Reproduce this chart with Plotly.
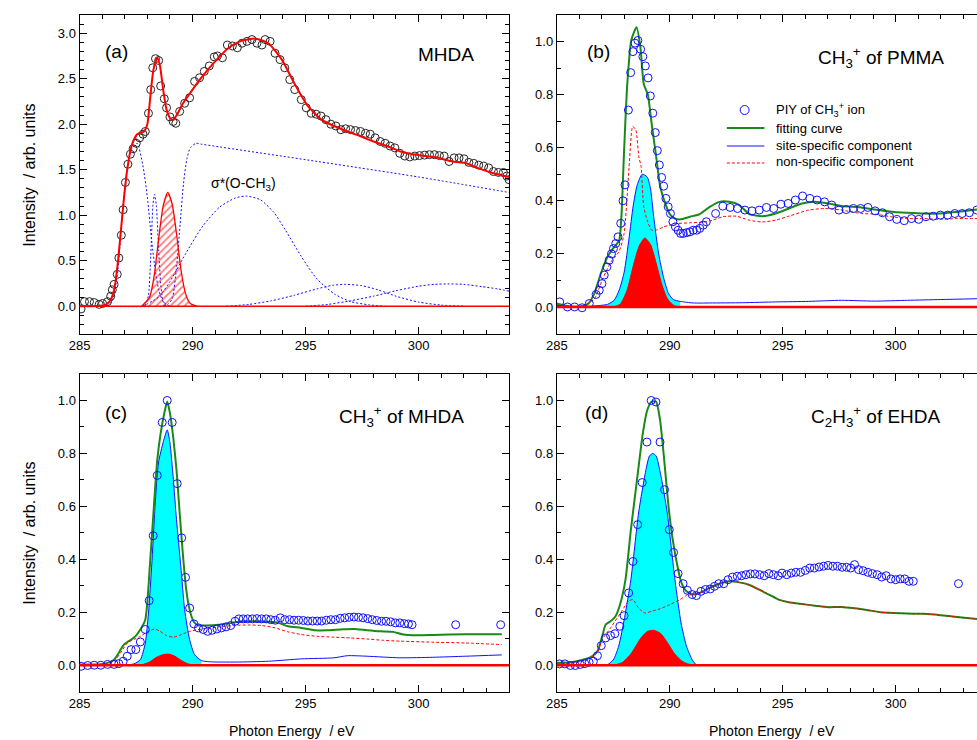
import plotly.graph_objects as go

FONT = "Liberation Sans, Arial, sans-serif"
W, H = 977, 740

# ---------------- (a) MHDA: electron yield spectrum, fit and components ----------------
A_TEY = [(285.07, -0.03), (285.22, 0.05), (285.44, 0.05), (285.65, 0.04), (285.87, 0.02), (286.02, 0.03),
         (286.24, 0.05), (286.38, 0.11), (286.45, 0.18), (286.53, 0.24), (286.67, 0.35), (286.74, 0.53),
         (286.85, 0.78), (286.93, 1.06), (287.03, 1.36), (287.14, 1.56), (287.25, 1.67), (287.37, 1.73),
         (287.51, 1.79), (287.66, 1.85), (287.81, 1.89), (287.91, 1.92), (288.05, 2.12), (288.15, 2.38),
         (288.24, 2.62), (288.36, 2.72), (288.50, 2.70), (288.59, 2.42), (288.75, 2.28), (288.85, 2.18),
         (289.00, 2.08), (289.14, 2.03), (289.26, 2.01), (289.43, 2.14), (289.65, 2.23), (289.87, 2.29),
         (290.09, 2.47), (290.31, 2.51), (290.52, 2.58), (290.74, 2.64), (290.96, 2.74), (291.10, 2.75),
         (291.32, 2.73), (291.54, 2.87), (291.76, 2.86), (291.98, 2.84), (292.19, 2.89), (292.41, 2.91),
         (292.63, 2.93), (292.85, 2.89), (293.07, 2.87), (293.21, 2.93), (293.43, 2.91), (293.65, 2.78),
         (293.87, 2.71), (294.08, 2.62), (294.30, 2.49), (294.52, 2.38), (294.81, 2.27), (295.03, 2.18),
         (295.25, 2.12), (295.47, 2.11), (295.68, 2.09), (295.90, 2.05), (296.12, 2.00), (296.34, 1.98),
         (296.56, 1.94), (296.77, 1.95), (296.99, 1.94), (297.21, 1.93), (297.43, 1.92), (297.65, 1.90),
         (297.86, 1.89), (298.08, 1.85), (298.30, 1.81), (298.52, 1.79), (298.74, 1.76), (298.95, 1.74),
         (299.17, 1.68), (299.39, 1.65), (299.61, 1.64), (299.83, 1.65), (300.04, 1.655), (300.26, 1.66),
         (300.48, 1.665), (300.70, 1.665), (300.92, 1.655), (301.13, 1.65), (301.35, 1.59), (301.57, 1.63),
         (301.79, 1.63), (302.01, 1.62), (302.22, 1.58), (302.44, 1.57), (302.66, 1.55), (302.88, 1.54),
         (303.10, 1.52), (303.31, 1.48), (303.53, 1.47), (303.75, 1.47), (303.90, 1.43), (304.00, 1.39)]

A_FIT = [(285.0, 0.0), (285.5, 0.0), (286.1, 0.01), (286.24, 0.03), (286.38, 0.07), (286.53, 0.18),
         (286.67, 0.42), (286.82, 0.8), (286.96, 1.17), (287.11, 1.5), (287.3, 1.76), (287.55, 1.89),
         (287.85, 1.92), (288.0, 2.0), (288.12, 2.27), (288.27, 2.6), (288.44, 2.73), (288.56, 2.64),
         (288.7, 2.38), (288.85, 2.16), (289.0, 2.07), (289.14, 2.05), (289.3, 2.1), (289.58, 2.23),
         (290.0, 2.38), (290.45, 2.53), (291.0, 2.69), (291.6, 2.84), (292.2, 2.92), (292.8, 2.94),
         (293.35, 2.89), (293.95, 2.71), (294.5, 2.45), (295.1, 2.2), (295.7, 2.05), (296.26, 1.98),
         (296.85, 1.92), (297.4, 1.87), (298.0, 1.81), (298.6, 1.76), (299.2, 1.70), (299.75, 1.67),
         (300.3, 1.65), (300.9, 1.63), (301.5, 1.59), (302.1, 1.57), (302.6, 1.52), (303.2, 1.47),
         (304.0, 1.42)]

A_EDGE = [(285.0, 0.0), (288.6, 0.0), (288.9, 0.02), (289.1, 0.08), (289.3, 0.45), (289.45, 0.9),
          (289.6, 1.35), (289.75, 1.62), (289.9, 1.74), (290.15, 1.79), (290.4, 1.78), (295.0, 1.61),
          (300.0, 1.42), (304.0, 1.25)]
A_PK1 = [(286.2, 0.0), (286.45, 0.06), (286.7, 0.4), (286.9, 1.05), (287.1, 1.5), (287.3, 1.72),
         (287.55, 1.79), (287.8, 1.55), (288.0, 1.2), (288.2, 0.7), (288.35, 0.4), (288.5, 0.18),
         (288.7, 0.05), (288.9, 0.01), (289.1, 0.0)]
A_PK2 = [(287.9, 0.0), (288.05, 0.12), (288.15, 0.55), (288.25, 1.12), (288.32, 1.23), (288.4, 1.1),
         (288.5, 0.62), (288.6, 0.22), (288.7, 0.05), (288.85, 0.0)]
A_OCH3 = [(287.75, 0.0), (288.1, 0.1), (288.3, 0.33), (288.5, 0.74), (288.7, 1.1), (288.9, 1.25),
          (289.1, 1.12), (289.3, 0.78), (289.5, 0.38), (289.7, 0.13), (289.9, 0.03), (290.2, 0.0)]
A_SIGMA = [(287.8, 0.0), (288.5, 0.1), (289.0, 0.27), (289.7, 0.58), (290.45, 0.88), (291.2, 1.09),
           (291.9, 1.19), (292.4, 1.21), (293.0, 1.17), (293.6, 1.03), (294.1, 0.84), (294.8, 0.55),
           (295.5, 0.3), (296.3, 0.13), (297.0, 0.05), (297.8, 0.015), (298.5, 0.0)]
A_PK5 = [(291.5, 0.0), (292.5, 0.02), (293.5, 0.06), (294.5, 0.12), (295.5, 0.19), (296.2, 0.23),
         (296.8, 0.24), (297.5, 0.225), (298.2, 0.18), (299.0, 0.11), (300.0, 0.045), (301.0, 0.012),
         (302.0, 0.0)]
A_PK6 = [(295.0, 0.0), (296.0, 0.02), (297.0, 0.06), (298.0, 0.11), (299.0, 0.17), (300.0, 0.22),
         (300.7, 0.24), (301.3, 0.245), (302.0, 0.24), (302.8, 0.215), (303.5, 0.19), (304.0, 0.165)]

# ---------------- (b) CH3+ of PMMA ----------------
B_PIY = [(285.13, 0.019), (285.47, 0.0), (285.79, 0.0), (286.12, -0.003), (286.44, 0.013), (286.74, 0.047),
         (286.88, 0.063), (287.0, 0.088), (287.1, 0.12), (287.22, 0.151), (287.32, 0.176), (287.42, 0.2),
         (287.51, 0.22), (287.61, 0.239), (287.71, 0.264), (287.83, 0.315), (287.93, 0.4), (288.02, 0.46),
         (288.17, 0.742), (288.27, 0.883), (288.37, 0.962), (288.46, 0.994), (288.59, 1.004), (288.71, 0.971),
         (288.81, 0.943), (288.92, 0.908), (289.04, 0.863), (289.14, 0.795), (289.25, 0.73), (289.36, 0.657),
         (289.45, 0.589), (289.54, 0.535), (289.64, 0.488), (289.73, 0.455), (289.83, 0.409), (289.93, 0.377),
         (290.03, 0.352), (290.14, 0.321), (290.25, 0.302), (290.37, 0.289), (290.48, 0.277), (290.6, 0.277),
         (290.75, 0.28), (290.89, 0.283), (291.04, 0.289), (291.19, 0.289), (291.33, 0.296), (291.48, 0.308),
         (291.62, 0.321), (292.03, 0.352), (292.35, 0.38), (292.67, 0.375), (293.0, 0.371), (293.33, 0.365),
         (293.64, 0.362), (293.96, 0.365), (294.28, 0.375), (294.6, 0.371), (294.92, 0.387), (295.24, 0.39),
         (295.56, 0.403), (295.88, 0.418), (296.2, 0.409), (296.52, 0.403), (296.85, 0.396), (297.17, 0.384),
         (297.49, 0.365), (297.81, 0.367), (298.13, 0.371), (298.45, 0.371), (298.77, 0.375), (299.09, 0.362),
         (299.41, 0.355), (299.73, 0.34), (300.05, 0.33), (300.38, 0.325), (300.7, 0.333), (301.02, 0.33),
         (301.34, 0.34), (301.66, 0.342), (301.98, 0.346), (302.3, 0.346), (302.62, 0.352), (302.94, 0.352),
         (303.26, 0.355), (303.59, 0.365)]
B_FIT = [(285.0, 0.013), (285.35, 0.006), (285.93, 0.0), (286.37, 0.01), (286.66, 0.05), (286.95, 0.126),
         (287.25, 0.19), (287.54, 0.226), (287.76, 0.25), (287.86, 0.34), (287.98, 0.59), (288.12, 0.84),
         (288.3, 1.006), (288.53, 1.054), (288.7, 0.98), (288.85, 0.84), (289.03, 0.8), (289.2, 0.69),
         (289.4, 0.566), (289.58, 0.453), (289.8, 0.39), (290.0, 0.35), (290.24, 0.333), (290.46, 0.33),
         (290.9, 0.34), (291.33, 0.35), (291.77, 0.377), (292.2, 0.396), (292.64, 0.396), (293.08, 0.384),
         (293.52, 0.35), (294.1, 0.342), (294.69, 0.352), (295.27, 0.371), (295.85, 0.39), (296.44, 0.396),
         (297.02, 0.39), (297.6, 0.38), (298.48, 0.375), (299.06, 0.367), (299.94, 0.358), (300.52, 0.355),
         (301.25, 0.352), (301.98, 0.352), (302.7, 0.358), (303.6, 0.367)]
B_NONSPEC = [(285.0, 0.005), (286.0, 0.0), (286.66, 0.03), (287.0, 0.1), (287.4, 0.17), (287.76, 0.21),
             (287.98, 0.277), (288.2, 0.528), (288.36, 0.68), (288.5, 0.667), (288.63, 0.566), (288.73, 0.53),
             (288.85, 0.377), (289.03, 0.32), (289.2, 0.29), (289.43, 0.29), (289.73, 0.302), (290.0, 0.308),
             (290.3, 0.314), (290.9, 0.317), (291.48, 0.32), (291.9, 0.327), (292.35, 0.34), (292.94, 0.342),
             (293.52, 0.327), (294.1, 0.32), (294.69, 0.327), (295.27, 0.342), (296.15, 0.365), (296.87, 0.371),
             (297.6, 0.365), (298.48, 0.352), (299.06, 0.35), (299.8, 0.34), (300.52, 0.333), (301.25, 0.333),
             (301.98, 0.33), (302.7, 0.333), (303.6, 0.333)]
B_SITE = [(285.0, 0.003), (286.5, 0.003), (286.95, 0.006), (287.25, 0.01), (287.54, 0.025), (287.76, 0.063),
          (287.98, 0.13), (288.2, 0.26), (288.38, 0.38), (288.56, 0.46), (288.78, 0.5), (289.0, 0.49),
          (289.14, 0.45), (289.29, 0.34), (289.51, 0.2), (289.73, 0.11), (289.95, 0.05), (290.16, 0.028),
          (290.46, 0.021), (291.04, 0.015), (291.77, 0.015), (293.23, 0.016), (294.69, 0.019), (296.15, 0.021),
          (297.6, 0.025), (299.06, 0.022), (300.52, 0.025), (301.98, 0.028), (303.6, 0.031)]
B_OCH3 = [(287.5, 0.0), (287.8, 0.01), (288.1, 0.06), (288.4, 0.16), (288.65, 0.23), (288.9, 0.26),
          (289.15, 0.235), (289.4, 0.165), (289.65, 0.085), (289.9, 0.03), (290.2, 0.005), (290.4, 0.0)]

# ---------------- (c) CH3+ of MHDA ----------------
C_PIY = [(285.07, -0.004), (285.36, -0.001), (285.65, 0.0), (285.94, 0.0), (286.24, 0.003), (286.53, 0.003),
         (286.74, 0.006), (286.93, 0.015), (287.11, 0.034), (287.28, 0.059), (287.49, 0.059), (287.69, 0.088),
         (287.91, 0.135), (288.08, 0.244), (288.26, 0.489), (288.44, 0.717), (288.66, 0.917), (288.88, 1.0),
         (289.1, 0.917), (289.32, 0.686), (289.52, 0.481), (289.69, 0.332), (289.87, 0.216), (290.06, 0.156),
         (290.26, 0.141), (290.47, 0.135), (290.67, 0.128), (290.87, 0.132), (291.08, 0.137), (291.28, 0.141),
         (291.48, 0.145), (291.69, 0.15), (291.88, 0.166), (292.05, 0.175), (292.24, 0.175), (292.44, 0.175),
         (292.65, 0.175), (292.85, 0.176), (293.05, 0.175), (293.26, 0.175), (293.46, 0.172), (293.66, 0.17),
         (293.88, 0.179), (294.08, 0.172), (294.29, 0.172), (294.49, 0.17), (294.69, 0.17), (294.9, 0.169),
         (295.1, 0.167), (295.31, 0.167), (295.51, 0.167), (295.71, 0.167), (295.92, 0.17), (296.12, 0.172),
         (296.32, 0.172), (296.53, 0.177), (296.73, 0.179), (296.93, 0.181), (297.14, 0.182), (297.34, 0.181),
         (297.54, 0.179), (297.75, 0.176), (297.95, 0.172), (298.15, 0.169), (298.36, 0.166), (298.56, 0.166),
         (298.76, 0.164), (298.97, 0.16), (299.17, 0.16), (299.37, 0.157), (299.55, 0.156), (299.71, 0.153),
         (301.64, 0.153), (303.63, 0.153)]
C_FIT = [(285.0, 0.003), (285.8, 0.003), (286.24, 0.009), (286.53, 0.021), (286.74, 0.047), (286.96, 0.078),
         (287.18, 0.091), (287.47, 0.109), (287.69, 0.135), (287.91, 0.172), (288.12, 0.386), (288.27, 0.575),
         (288.44, 0.776), (288.59, 0.877), (288.75, 0.952), (288.88, 0.996), (289.0, 0.952), (289.14, 0.864),
         (289.29, 0.738), (289.43, 0.575), (289.58, 0.411), (289.72, 0.286), (289.87, 0.21), (290.04, 0.166),
         (290.23, 0.151), (290.6, 0.15), (291.18, 0.153), (291.76, 0.16), (292.19, 0.166), (292.78, 0.166),
         (293.36, 0.164), (293.8, 0.16), (294.23, 0.147), (294.81, 0.141), (295.39, 0.132), (295.97, 0.132),
         (296.56, 0.135), (297.14, 0.137), (297.72, 0.132), (298.3, 0.128), (298.88, 0.126), (299.32, 0.116),
         (299.9, 0.113), (300.63, 0.114), (302.08, 0.117), (303.68, 0.117)]
C_NONSPEC = [(285.0, 0.003), (286.1, 0.003), (286.53, 0.015), (286.82, 0.047), (287.11, 0.084), (287.4, 0.097),
             (287.69, 0.109), (287.98, 0.125), (288.34, 0.137), (288.56, 0.128), (288.85, 0.112), (289.14, 0.106),
             (289.43, 0.113), (289.87, 0.128), (290.45, 0.137), (291.18, 0.145), (291.9, 0.151), (292.49, 0.152),
             (293.07, 0.15), (293.65, 0.141), (294.23, 0.126), (294.81, 0.116), (295.54, 0.109), (296.26, 0.106),
             (296.99, 0.103), (297.72, 0.099), (298.44, 0.094), (299.17, 0.091), (300.63, 0.087), (302.08, 0.084),
             (303.68, 0.078)]
C_SITE = [(285.0, 0.0), (286.82, 0.0), (287.4, 0.005), (287.69, 0.021), (287.91, 0.084), (288.05, 0.197),
          (288.2, 0.386), (288.34, 0.6), (288.49, 0.764), (288.71, 0.845), (288.88, 0.889), (289.0, 0.84),
          (289.14, 0.713), (289.29, 0.55), (289.48, 0.374), (289.65, 0.21), (289.87, 0.097), (290.09, 0.04),
          (290.38, 0.018), (290.74, 0.013), (291.9, 0.012), (293.36, 0.015), (294.81, 0.024), (296.26, 0.028),
          (296.85, 0.036), (297.72, 0.034), (299.17, 0.028), (300.63, 0.03), (302.08, 0.034), (303.68, 0.039)]
C_OCH3 = [(287.7, 0.0), (288.1, 0.012), (288.4, 0.03), (288.7, 0.04), (288.95, 0.042), (289.2, 0.035),
          (289.5, 0.018), (289.8, 0.005), (290.1, 0.0)]

# ---------------- (d) C2H3+ of EHDA ----------------
D_PIY = [(285.12, 0.005), (285.36, 0.005), (285.6, -0.001), (285.82, -0.001), (286.04, 0.003), (286.24, 0.006),
         (286.43, 0.011), (286.62, 0.015), (286.8, 0.036), (286.97, 0.074), (287.16, 0.103), (287.38, 0.112),
         (287.57, 0.119), (287.79, 0.147), (287.98, 0.187), (288.18, 0.273), (288.37, 0.392), (288.58, 0.531),
         (288.78, 0.69), (288.99, 0.843), (289.18, 1.0), (289.39, 0.994), (289.57, 0.843), (289.77, 0.663),
         (289.98, 0.512), (290.17, 0.426), (290.37, 0.346), (290.59, 0.308), (290.78, 0.283), (290.99, 0.267),
         (291.18, 0.263), (291.38, 0.279), (291.58, 0.286), (291.79, 0.288), (291.98, 0.298), (292.17, 0.308),
         (292.39, 0.308), (292.58, 0.323), (292.78, 0.333), (292.99, 0.336), (293.18, 0.338), (293.37, 0.342),
         (293.57, 0.345), (293.77, 0.345), (293.98, 0.342), (294.18, 0.338), (294.39, 0.346), (294.59, 0.342),
         (294.8, 0.338), (294.97, 0.348), (295.18, 0.342), (295.38, 0.348), (295.58, 0.351), (295.79, 0.351),
         (296.0, 0.358), (296.2, 0.367), (296.4, 0.367), (296.61, 0.371), (296.81, 0.374), (297.01, 0.377),
         (297.22, 0.374), (297.42, 0.374), (297.63, 0.37), (297.83, 0.37), (298.01, 0.367), (298.18, 0.38),
         (298.36, 0.361), (298.56, 0.357), (298.77, 0.351), (298.97, 0.346), (299.18, 0.342), (299.38, 0.333),
         (299.58, 0.338), (299.79, 0.326), (300.0, 0.323), (300.2, 0.326), (300.4, 0.326), (300.59, 0.317),
         (300.78, 0.317), (302.78, 0.308)]
D_FIT = [(285.0, 0.009), (285.63, 0.011), (286.07, 0.019), (286.5, 0.031), (286.8, 0.053), (287.01, 0.109),
         (287.16, 0.153), (287.38, 0.166), (287.6, 0.185), (287.82, 0.235), (288.04, 0.323), (288.28, 0.512),
         (288.55, 0.7), (288.81, 0.877), (289.01, 0.965), (289.2, 0.996), (289.39, 0.996), (289.57, 0.927),
         (289.74, 0.789), (289.93, 0.613), (290.11, 0.487), (290.3, 0.392), (290.52, 0.311), (290.74, 0.279),
         (291.03, 0.267), (291.32, 0.273), (291.76, 0.292), (292.2, 0.308), (292.64, 0.317), (293.07, 0.313),
         (293.5, 0.304), (293.95, 0.286), (294.39, 0.267), (294.82, 0.248), (295.26, 0.238), (295.85, 0.231),
         (296.43, 0.225), (297.01, 0.219), (297.6, 0.22), (298.18, 0.215), (298.77, 0.208), (299.35, 0.2),
         (299.93, 0.197), (300.52, 0.195), (301.25, 0.194), (301.98, 0.189), (302.71, 0.182), (303.6, 0.175)]
D_NONSPEC = [(285.0, 0.006), (285.63, 0.008), (286.07, 0.016), (286.5, 0.028), (286.8, 0.048), (287.01, 0.097),
             (287.38, 0.141), (287.82, 0.197), (288.18, 0.242), (288.37, 0.248), (288.62, 0.216), (288.91, 0.197),
             (289.2, 0.204), (289.57, 0.213), (290.01, 0.229), (290.45, 0.248), (290.74, 0.263), (291.03, 0.267),
             (291.32, 0.273), (291.76, 0.292), (292.2, 0.308), (292.64, 0.317), (293.07, 0.313), (293.5, 0.304),
             (293.95, 0.286), (294.39, 0.267), (294.82, 0.248), (295.26, 0.238), (295.85, 0.231), (296.43, 0.225),
             (297.01, 0.219), (297.6, 0.22), (298.18, 0.215), (298.77, 0.208), (299.35, 0.2), (299.93, 0.197),
             (300.52, 0.195), (301.25, 0.194), (301.98, 0.189), (302.71, 0.182), (303.6, 0.175)]
D_SITE = [(285.0, 0.0), (286.5, 0.0), (287.2, 0.0), (287.5, 0.02), (287.74, 0.072), (288.0, 0.18),
          (288.28, 0.323), (288.62, 0.575), (288.95, 0.74), (289.1, 0.79), (289.25, 0.8), (289.4, 0.79),
          (289.6, 0.72), (289.89, 0.575), (290.23, 0.323), (290.5, 0.16), (290.74, 0.072), (291.0, 0.02),
          (291.2, 0.0), (291.6, 0.0), (292.5, 0.0), (303.6, 0.0)]
D_OCH3 = [(287.5, 0.0), (287.9, 0.01), (288.3, 0.045), (288.7, 0.1), (289.0, 0.127), (289.28, 0.132),
          (289.6, 0.12), (289.9, 0.085), (290.2, 0.045), (290.5, 0.018), (290.8, 0.005), (291.2, 0.0)]

# upper end of the cyan (site-specific) shading in panels b and c
B_SITE_FILL_END = 290.5
C_SITE_FILL_END = 290.4

# ---------------- colours ----------------
BLUE = "#1010ff"
GREEN = "#178a17"
RED = "#ff0000"
CYAN = "#00ffff"
DARK = "#262626"


def xs(pts):
    return [p[0] for p in pts]


def ys(pts):
    return [p[1] for p in pts]


fig = go.Figure()


def add_line(pts, ax, color, width, dash="solid", smoothing=0.6, **kw):
    fig.add_trace(go.Scatter(
        x=xs(pts), y=ys(pts), xaxis="x" + ax, yaxis="y" + ax, mode="lines",
        line=dict(color=color, width=width, dash=dash, shape="spline", smoothing=smoothing),
        hoverinfo="skip", showlegend=False, **kw))


def add_points(pts, ax, color, size=8):
    fig.add_trace(go.Scatter(
        x=xs(pts), y=ys(pts), xaxis="x" + ax, yaxis="y" + ax, mode="markers",
        marker=dict(symbol="circle-open", size=size, color=color, line=dict(width=1, color=color)),
        hoverinfo="skip", showlegend=False))


# ---- panel (a) ----
for comp in (A_EDGE, A_PK1, A_PK2, A_SIGMA, A_PK5, A_PK6):
    add_line(comp, "", BLUE, 1, dash="2px,2px")
add_line(A_OCH3, "", RED, 1.3, fill="tozeroy", fillcolor="rgba(0,0,0,0)",
         fillpattern=dict(shape="/", fgcolor=RED, bgcolor="rgba(0,0,0,0)", size=5, solidity=0.35))
add_points(A_TEY, "", DARK)
add_line(A_FIT, "", RED, 2)


# ---- panels (b), (c), (d) ----
def ion_panel(ax, piy, fit, nonspec, site, och3, fill_end):
    shade = [p for p in site if p[0] <= fill_end]
    add_line(shade, ax, "rgba(0,0,0,0)", 0, fill="tozeroy", fillcolor=CYAN)
    add_line(och3, ax, RED, 1, fill="tozeroy", fillcolor=RED)
    add_line(site, ax, BLUE, 1)
    add_line(fit, ax, GREEN, 2)
    add_line(nonspec, ax, RED, 1, dash="3px,2px")
    add_points(piy, ax, BLUE)


ion_panel("2", B_PIY, B_FIT, B_NONSPEC, B_SITE, B_OCH3, B_SITE_FILL_END)
ion_panel("3", C_PIY, C_FIT, C_NONSPEC, C_SITE, C_OCH3, C_SITE_FILL_END)
ion_panel("4", D_PIY, D_FIT, D_NONSPEC, D_SITE, D_OCH3, 400)

# ---------------- axes ----------------
LEFT = [69.3 / W, 503.7 / W]
RIGHT = [552.0 / W, 1.0]
TOP = [(H - 333.5) / H, (H - 15.0) / H]
BOTTOM = [(H - 691.7) / H, (H - 374.0) / H]

tickfont = dict(family=FONT, size=13, color="black")
common = dict(showline=True, linecolor="black", linewidth=1, ticks="inside", tickcolor="black",
              tickwidth=1, ticklen=7, showgrid=False, zeroline=False, tickfont=tickfont)


def xaxis(domain, rng, anchor):
    return dict(common, domain=domain, range=rng, anchor=anchor, tick0=285, dtick=5, mirror="ticks",
                minor=dict(dtick=1, ticks="inside", ticklen=4, tickcolor="black", tickwidth=1, showgrid=False))


def yaxis(domain, rng, anchor, dtick, mirror):
    return dict(common, domain=domain, range=rng, anchor=anchor, tick0=0, dtick=dtick, tickformat=".1f",
                mirror=mirror,
                minor=dict(dtick=0.1, ticks="inside", ticklen=4, tickcolor="black", tickwidth=1, showgrid=False))


fig.update_layout(
    width=W, height=H, margin=dict(l=0, r=0, t=0, b=0),
    paper_bgcolor="white", plot_bgcolor="white", showlegend=False,
    font=dict(family=FONT, size=13, color="black"),
    xaxis=xaxis(LEFT, [285, 304.0], "y"),
    yaxis=yaxis(TOP, [-0.3, 3.2], "x", 0.5, "ticks"),
    xaxis2=xaxis(RIGHT, [285, 303.6], "y2"),
    yaxis2=yaxis(TOP, [-0.1, 1.1], "x2", 0.2, False),
    xaxis3=xaxis(LEFT, [285, 304.0], "y3"),
    yaxis3=yaxis(BOTTOM, [-0.1, 1.1], "x3", 0.2, "ticks"),
    xaxis4=xaxis(RIGHT, [285, 303.6], "y4"),
    yaxis4=yaxis(BOTTOM, [-0.1, 1.1], "x4", 0.2, False),
)

# zero baselines
shapes = []
for ax, w in (("", 1.5), ("2", 2.5), ("3", 2.5), ("4", 2.5)):
    xr = "x" + ax if ax else "x"
    yr = "y" + ax if ax else "y"
    shapes.append(dict(type="line", xref=xr + " domain", yref=yr, x0=0, x1=1, y0=0, y1=0,
                       line=dict(color=RED, width=w), layer="above"))


def px(x):
    return x / W


def py(y):
    return 1 - y / H


# legend of panel (b)
shapes.append(dict(type="circle", xref="paper", yref="paper", x0=px(737.5), x1=px(746.5), y0=py(105.5),
                   y1=py(114.5), line=dict(color=BLUE, width=1)))
shapes.append(dict(type="line", xref="paper", yref="paper", x0=px(724), x1=px(762), y0=py(128), y1=py(128),
                   line=dict(color=GREEN, width=2)))
shapes.append(dict(type="line", xref="paper", yref="paper", x0=px(724), x1=px(762), y0=py(146), y1=py(146),
                   line=dict(color=BLUE, width=1)))
shapes.append(dict(type="line", xref="paper", yref="paper", x0=px(724), x1=px(762), y0=py(163), y1=py(163),
                   line=dict(color=RED, width=1, dash="3px,2px")))
fig.update_layout(shapes=shapes)

ann = []


def text(x, y, s, size, anchor="center", angle=0):
    ann.append(dict(x=px(x), y=py(y), xref="paper", yref="paper", text=s, showarrow=False,
                    xanchor=anchor, yanchor="middle", textangle=angle,
                    font=dict(family=FONT, size=size, color="black")))


text(107, 52, "(a)", 19)
text(594, 52, "(b)", 19)
text(106, 412, "(c)", 19)
text(592, 412, "(d)", 19)
text(440, 54, "MHDA", 19)
text(880, 58, "CH<sub>3</sub><sup>+</sup> of PMMA", 19)
text(395, 416, "CH<sub>3</sub><sup>+</sup> of MHDA", 19)
text(875, 416, "C<sub>2</sub>H<sub>3</sub><sup>+</sup> of EHDA", 19)
text(235, 184, "σ*(O-CH<sub>3</sub>)", 14)
text(772, 110, "PIY of CH<sub>3</sub><sup>+</sup> ion", 13, anchor="left")
text(772, 128, "fitting curve", 13, anchor="left")
text(772, 145, "site-specific component", 13, anchor="left")
text(772, 161, "non-specific component", 13, anchor="left")
text(18, 175, "Intensity\u00a0 / arb. units", 16, angle=-90)
text(18, 533, "Intensity\u00a0 / arb. units", 16, angle=-90)
text(284, 731, "Photon Energy\u00a0 / eV", 14)
text(770, 731, "Photon Energy\u00a0 / eV", 14)
fig.update_layout(annotations=ann)

fig.write_html("out.html")
